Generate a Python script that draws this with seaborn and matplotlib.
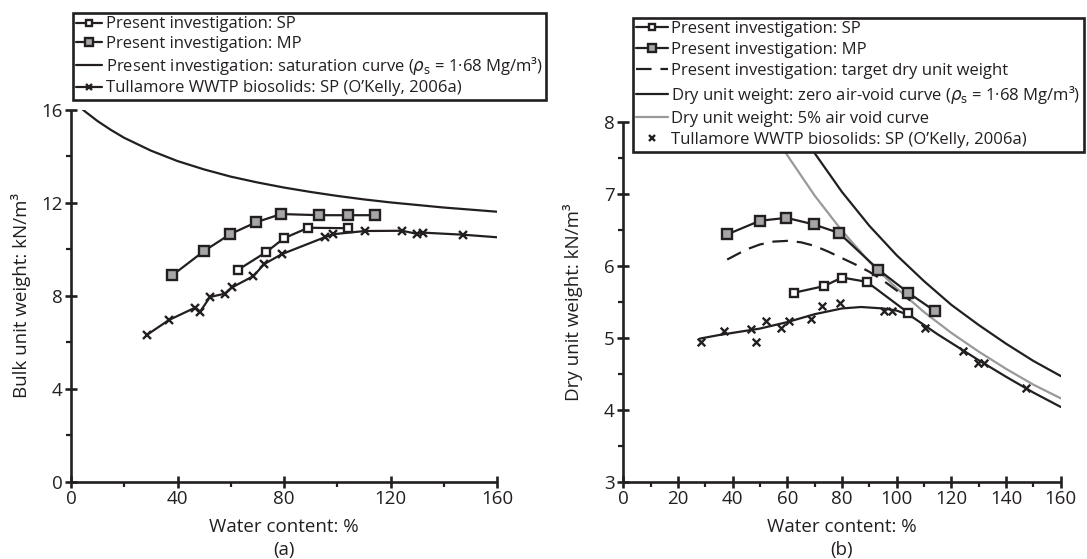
import numpy as np
import pandas as pd
import seaborn as sns
import matplotlib.pyplot as plt
from matplotlib.lines import Line2D
from matplotlib.ticker import MultipleLocator

# ---------------- data ----------------
# Panel (a): bulk unit weight (kN/m3) vs water content (%)
mp_w = [38.0, 50.0, 59.7, 69.6, 78.9, 93.3, 104.2, 114.1]
mp_bulk = [8.88, 9.93, 10.65, 11.17, 11.52, 11.47, 11.47, 11.47]
sp_w = [62.6, 73.4, 80.0, 89.1, 104.2]
sp_bulk = [9.11, 9.89, 10.48, 10.93, 10.91]
tully_w = [28.4, 36.8, 46.6, 48.5, 52.2, 57.7, 60.6, 68.5, 72.6, 79.1,
           95.5, 98.3, 110.4, 124.4, 129.8, 132.1, 147.3]
tully_bulk = [6.31, 6.96, 7.49, 7.32, 7.95, 8.09, 8.37, 8.85, 9.37, 9.79,
              10.53, 10.65, 10.79, 10.80, 10.67, 10.72, 10.63]
tully_tail_w = [147.3, 160.0]
tully_tail_bulk = [10.63, 10.52]
sat_w = [4, 5, 10, 15, 20, 30, 40, 50, 60, 70, 80, 90, 100, 110, 120, 130, 140, 150, 160]
sat_bulk = [16.06, 15.96, 15.52, 15.14, 14.80, 14.25, 13.80, 13.44, 13.13, 12.88,
            12.66, 12.47, 12.30, 12.15, 12.02, 11.91, 11.80, 11.71, 11.62]

# Panel (b): dry unit weight (kN/m3) vs water content (%)
mp_dry = [6.44, 6.63, 6.67, 6.58, 6.46, 5.95, 5.63, 5.37]
sp_dry = [5.63, 5.72, 5.84, 5.78, 5.35]
tully_dry = [4.94, 5.10, 5.13, 4.95, 5.23, 5.14, 5.23, 5.26, 5.44, 5.48,
             5.38, 5.37, 5.14, 4.82, 4.65, 4.65, 4.30]
target_w = [38, 45, 50, 55, 60, 65, 70, 75, 80, 85, 90, 95, 100, 105]
target_dry = [6.09, 6.23, 6.30, 6.34, 6.35, 6.33, 6.28, 6.20, 6.11, 6.02, 5.92, 5.80, 5.66, 5.52]
zav_w = [60, 65, 70, 80, 90, 100, 110, 120, 130, 140, 150, 160]
zav_dry = [8.21, 7.88, 7.57, 7.03, 6.56, 6.15, 5.79, 5.46, 5.18, 4.92, 4.68, 4.47]
av5_w = [52, 55, 60, 70, 80, 90, 100, 110, 120, 130, 140, 150, 160]
av5_dry = [8.05, 7.86, 7.54, 6.98, 6.49, 6.06, 5.69, 5.36, 5.07, 4.81, 4.57, 4.35, 4.16]
fit_w = [28, 35, 40, 50, 60, 70, 80, 87, 95, 100, 105, 110, 115, 120, 125, 130, 140, 150, 160]
fit_dry = [4.99, 5.04, 5.07, 5.13, 5.22, 5.33, 5.41, 5.43, 5.41, 5.38, 5.31, 5.18, 5.05,
           4.93, 4.81, 4.69, 4.46, 4.24, 4.04]

# ---------------- style ----------------
sns.set_theme(style='white')
plt.rcParams['font.family'] = ['Open Sans', 'DejaVu Sans']
plt.rcParams['mathtext.fontset'] = 'dejavusans'
TXT = '#231f20'
GREY_FILL = '#a6a6a6'
GREY_LINE = '#999999'
LW = 1.6
FS_TICK = 13.5
FS_LEG = 12

fig = plt.figure(figsize=(10.87, 5.59), dpi=100)
axA = fig.add_axes([0.0653, 0.1383, 0.392, 0.665])
axB = fig.add_axes([0.5734, 0.1383, 0.4024, 0.643])

mp_kw = dict(marker='s', markersize=6.8, markerfacecolor=GREY_FILL,
             markeredgecolor=TXT, markeredgewidth=1.7)
sp_kw = dict(marker='s', markersize=6.0, markerfacecolor='white',
             markeredgecolor=TXT, markeredgewidth=1.7)
x_kw = dict(marker='x', markersize=5.5, markeredgecolor=TXT, markeredgewidth=1.7)

# ---- panel (a)
sns.lineplot(x=sat_w, y=sat_bulk, color=TXT, lw=LW, ax=axA, sort=False, estimator=None)
sns.lineplot(x=tully_tail_w, y=tully_tail_bulk, color=TXT, lw=LW, ax=axA, sort=False, estimator=None)
sns.lineplot(x=tully_w, y=tully_bulk, color=TXT, lw=LW, ax=axA, sort=False, estimator=None, **x_kw)
sns.lineplot(x=sp_w, y=sp_bulk, color=TXT, lw=LW, ax=axA, sort=False, estimator=None, **sp_kw)
sns.lineplot(x=mp_w, y=mp_bulk, color=TXT, lw=LW, ax=axA, sort=False, estimator=None, **mp_kw)

# ---- panel (b)
sns.lineplot(x=zav_w, y=zav_dry, color=TXT, lw=LW, ax=axB, sort=False, estimator=None)
sns.lineplot(x=av5_w, y=av5_dry, color=GREY_LINE, lw=LW, ax=axB, sort=False, estimator=None)
sns.lineplot(x=target_w, y=target_dry, color=TXT, lw=LW, ax=axB, sort=False, estimator=None,
             dashes=False, linestyle=(0, (7, 4)))
sns.lineplot(x=fit_w, y=fit_dry, color=TXT, lw=LW, ax=axB, sort=False, estimator=None)
sns.lineplot(x=sp_w, y=sp_dry, color=TXT, lw=LW, ax=axB, sort=False, estimator=None, **sp_kw)
sns.lineplot(x=mp_w, y=mp_dry, color=TXT, lw=LW, ax=axB, sort=False, estimator=None, **mp_kw)
sns.scatterplot(x=tully_w, y=tully_dry, marker='x', s=30, color=TXT, linewidth=1.7, ax=axB, zorder=5)

# ---------------- axes ----------------
def style_axes(ax, xmaj, xmin, ymaj, ymin, xlim, ylim, ylabel, tag, ylab_x):
    ax.set_xlim(*xlim)
    ax.set_ylim(*ylim)
    ax.xaxis.set_major_locator(MultipleLocator(xmaj))
    ax.xaxis.set_minor_locator(MultipleLocator(xmin))
    ax.yaxis.set_major_locator(MultipleLocator(ymaj))
    ax.yaxis.set_minor_locator(MultipleLocator(ymin))
    for s in ['top', 'right']:
        ax.spines[s].set_visible(False)
    for s in ['left', 'bottom']:
        ax.spines[s].set_linewidth(1.9)
        ax.spines[s].set_color(TXT)
        ax.spines[s].set_capstyle('butt')
    ax.tick_params(which='major', direction='inout', length=8.5, width=1.9,
                   color=TXT, labelsize=FS_TICK, labelcolor=TXT, pad=2.0,
                   bottom=True, left=True)
    ax.tick_params(which='minor', direction='out', length=3.5, width=1.6,
                   color=TXT, bottom=True, left=True)
    ax.set_xlabel('Water content: %', fontsize=FS_TICK, color=TXT)
    ax.set_ylabel(ylabel, fontsize=FS_TICK, color=TXT)
    h_px = ax.get_position().height * 559
    w_px = ax.get_position().width * 1087
    ax.xaxis.set_label_coords(0.5, -(527 - 481.7) / h_px)
    ax.xaxis.label.set_va('center')
    ax.yaxis.set_label_coords(ylab_x / w_px, 0.5)
    ax.yaxis.label.set_va('center')
    ax.text(0.5, -(550 - 481.7) / h_px, tag, transform=ax.transAxes, ha='center',
            va='center', fontsize=FS_TICK, color=TXT)
    ax.grid(False)

style_axes(axA, 40, 20, 4, 2, (0, 160), (0, 16), 'Bulk unit weight: kN/m³', '(a)', 21 - 71)
style_axes(axB, 20, 10, 1, 0.5, (0, 160), (3, 8), 'Dry unit weight: kN/m³', '(b)', 573 - 623.3)

# ---------------- legends ----------------
rho = r'($\rho_{\mathrm{s}}$ = 1·68 Mg/m³)'
lmp = dict(mp_kw, markersize=5.5)
lsp = dict(sp_kw, markersize=5.0)
lx = dict(x_kw, markersize=5.0)
legA_handles = [
    Line2D([], [], color=TXT, lw=LW, **lsp),
    Line2D([], [], color=TXT, lw=LW, **lmp),
    Line2D([], [], color=TXT, lw=LW),
    Line2D([], [], color=TXT, lw=LW, **lx),
]
legA_labels = ['Present investigation: SP', 'Present investigation: MP',
               'Present investigation: saturation curve ' + rho,
               "Tullamore WWTP biosolids: SP (O’Kelly, 2006a)"]
legB_handles = [
    Line2D([], [], color=TXT, lw=LW, **lsp),
    Line2D([], [], color=TXT, lw=LW, **lmp),
    Line2D([], [], color=TXT, lw=LW, linestyle=(0, (7, 4))),
    Line2D([], [], color=TXT, lw=LW),
    Line2D([], [], color=GREY_LINE, lw=LW),
    Line2D([], [], color=TXT, lw=0, **lx),
]
legB_labels = ['Present investigation: SP', 'Present investigation: MP',
               'Present investigation: target dry unit weight',
               'Dry unit weight: zero air-void curve ' + rho,
               'Dry unit weight: 5% air void curve',
               "Tullamore WWTP biosolids: SP (O’Kelly, 2006a)"]

def make_legend(handles, labels, x0, y0, hl, ls):
    leg = fig.legend(handles, labels, loc='upper left',
                     bbox_to_anchor=(x0 / 1087, 1 - y0 / 559),
                     bbox_transform=fig.transFigure, fontsize=FS_LEG,
                     frameon=True, fancybox=False, framealpha=1, edgecolor=TXT,
                     borderaxespad=0, borderpad=0.2, labelspacing=ls,
                     handlelength=hl, handletextpad=0.2)
    leg.get_frame().set_linewidth(1.9)
    for t in leg.get_texts():
        t.set_color(TXT)
    return leg

make_legend(legA_handles, legA_labels, 73, 13, 1.55, 0.2)
make_legend(legB_handles, legB_labels, 633, 18, 1.9, 0.3)

fig.savefig('out.png', dpi=100)
